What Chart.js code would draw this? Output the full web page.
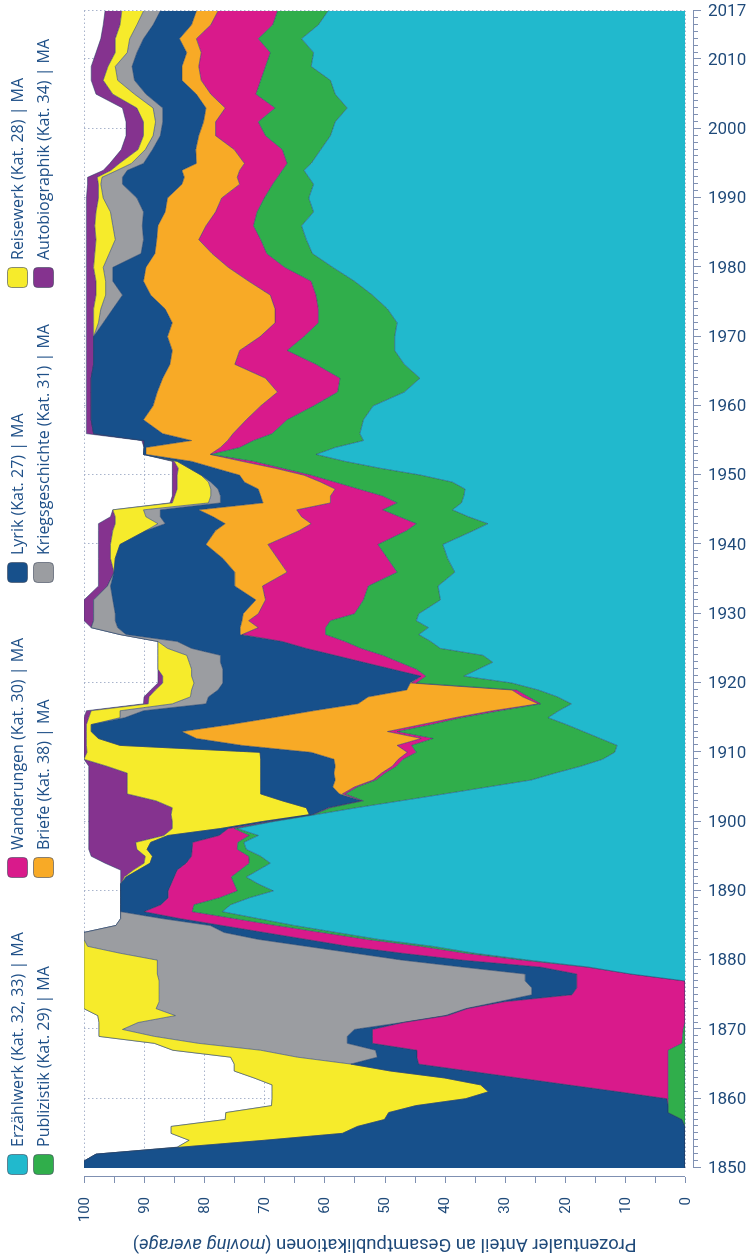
<!DOCTYPE html>
<html>
<head>
<meta charset="utf-8">
<script src="https://cdn.jsdelivr.net/npm/chart.js@4.4.1/dist/chart.umd.min.js"></script>
<style>
  html, body { margin: 0; padding: 0; background: #fff; }
  #wrap { position: relative; width: 750px; height: 1256px; overflow: hidden; }
  /* the chart is drawn lying down and turned a quarter turn to the left */
  #chart { position: absolute; left: 0; top: 0; width: 1256px; height: 750px;
           transform-origin: 0 0; transform: translate(0, 1256px) rotate(-90deg); }
</style>
</head>
<body>
<div id="wrap"><canvas id="chart" width="1256" height="750"></canvas></div>
<script>
const years = [
  1850,1851,1852,1853,1854,1855,1856,1857,1858,1859,
  1860,1861,1862,1863,1864,1865,1866,1867,1868,1869,
  1870,1871,1872,1873,1874,1875,1876,1877,1878,1879,
  1880,1881,1882,1883,1884,1885,1886,1887,1888,1889,
  1890,1891,1892,1893,1894,1895,1896,1897,1898,1899,
  1900,1901,1902,1903,1904,1905,1906,1907,1908,1909,
  1910,1911,1912,1913,1914,1915,1916,1917,1918,1919,
  1920,1921,1922,1923,1924,1925,1926,1927,1928,1929,
  1930,1932,1934,1936,1938,1940,
  1942,1943,1944,1945,1946,1947,1948,1949,1950,1951,1952,1953,1954,1955,1956,
  1958,1960,1962,1964,1966,1968,1970,1972,1974,1976,1978,1980,
  1982,1984,1986,1988,1990,1992,1993,1994,1995,
  1997,1999,2001,2003,2005,2007,2009,2011,2013,2015,2017
];

// Erzählwerk (cyan)
const erzaehlwerk = [
  0,0,0,0,0,0,0,0,0,0,
  0,0,0,0,0,0,0,0,0,0,
  0,0,0,0,0,0,0,0,9,16,
  26,35,42,51,58,65,71,77,75.6,72.5,
  68.5,71,73,71,69,70.6,73,73.4,71,74.5,
  68.5,61.5,54.7,47.3,40,32.8,25.6,21.6,17.3,13.7,
  11.7,11.3,14.1,16.9,19.7,22.8,21,18.9,21.2,24.4,
  28.8,36.8,34.4,32,33.6,40.7,42.3,44.3,42.7,44.7,
  44.3,40.7,41.1,38.3,39.5,40.3,
  35.2,32.8,36,38.7,37.2,36.8,36.6,38.7,43.9,50.7,56.6,61.4,58.2,53.5,54.1,
  53.5,51.9,46.7,44.1,46.7,48.3,48.3,47.9,49.5,52,55,58.6,
  62,63,63.8,61.8,62.6,61.8,62.6,63.4,62.2,
  60.6,59,58.2,56.2,58.2,59,62.2,61.8,63.8,61,59.4
];

// Publizistik (green)
const publizistik = [
  0,0,0,0,0,0,0,0.5,2.8,2.8,
  2.8,2.8,2.8,2.8,2.8,2.8,2.8,2.8,0.5,0.4,
  0.3,0,0,0,0,0,0,0,0,0.3,
  1,1.5,2,2,2.5,3,4,5,6.1,5,
  6,4,2.5,3,3.5,2,1.5,1,1.5,0.5,
  0.3,0.3,4.3,6.2,16.5,21.7,25.8,28.3,30.7,33.2,
  33,34.2,27.8,31,22.6,14.4,9.8,5.1,4.8,3.6,
  15.9,6.3,10.3,15.5,16.7,13.2,14.3,15.5,17.1,14.3,
  10.7,12.8,11.6,9.6,10,10.8,
  11.1,11.9,11.5,11.6,10.7,13.5,17.7,19.5,18.3,16.3,15.2,17.5,15.9,18.3,14.6,
  12.7,9.9,11.1,13.3,14.7,17.9,15.1,13.1,11.5,9.4,7.2,8,
  7.6,7.6,8,9.4,7.4,6.8,5.2,3.6,4,
  6.4,10.8,12.8,12,13.2,11.6,7.6,7.2,7.2,7.6,8.4
];

// Wanderungen (magenta)
const wanderungen = [
  0,0,0,0,0,0,0,0,0,0,
  0.2,8.2,16.6,24.9,33.2,41.5,41.8,41.8,51.5,51.6,
  51.7,46.8,39.5,36.2,30,18.8,18,18,9,7.7,
  10,10.5,12,10,9.5,9,9,8,5.5,8.5,
  11.5,10.5,9.5,10.5,10.5,9.5,7.5,7.5,5,1,
  0.5,0.2,0.3,0.3,0.5,0.5,0.5,0.6,0.7,0.8,
  1.5,2.4,2,1.6,1.6,1.1,1.2,0.4,1,0.8,
  0.8,0.8,4,6,7.9,9.1,10.4,13.9,11.2,13.6,
  16,16.3,17.6,18.3,18.3,18.3,
  17.9,17.5,16.3,14.3,11.1,8.7,3.9,2.4,1.2,1.2,1.9,0.1,3.2,4.3,6.5,
  6.8,8.8,10,12.4,13.5,7.9,7.3,7.2,7.2,7.6,10.4,9.4,
  9.1,10.3,7.9,6.9,7.1,5.5,6.7,7.1,7.1,
  8,8.3,7.1,8.3,7.5,9.9,11.1,11.5,10.3,10.3,9.9
];

// Briefe (orange)
const briefe = [
  0,0,0,0,0,0,0,0,0,0,
  0,0,0,0,0,0,0,0,0,0,
  0,0,0,0,0,0,0,0,0,0,
  0,0,0,0,0,0,0,0,0,0,
  0,0,0,0,0,0,0,0,0,0,
  0,0,0,0,0.5,3.6,6.3,7.9,9.5,10.7,
  16,25.8,37.4,34.2,31.8,30.3,29.8,30,25.7,17.5,
  0.2,0,0,0,0,0,0,0.3,3,1.1,
  2.5,1.6,4.6,8.7,9.1,10.3,
  13.9,14.3,14.7,16.3,11.2,11.6,12.8,12.7,10.7,9.9,8.4,10.7,12.4,6,11.7,
  17.1,17.9,20,17.1,10.8,11.2,15.4,17.1,18.3,19.9,17.5,13.7,
  9.5,7,8,8.4,9,9.6,8.8,9.6,8,
  6.4,2.8,2,3.2,2.4,3.2,2.8,2.4,2.8,3.2,3.6
];

// Lyrik (dark blue)
const lyrik = [
  100,100,98,84,70,57,54.5,49.5,46.5,42,
  33.5,21.7,14.6,12.3,13,11.3,6.6,6.9,4.2,4.2,
  3,0.3,0.4,0.3,1,6.7,7.5,8.6,8.6,13,
  10,8,7,8,6.7,2,3,3.9,6.7,7.9,
  7.9,8.4,8,6.5,6,6.5,7.5,7,8.5,1.3,
  1.1,0.5,3.7,13.2,13.1,12,12.4,12.2,12.4,12.2,
  8.5,20.3,16.3,15.1,23.1,24.6,28.3,25.3,26.6,31.4,
  31.2,33,28.2,23.8,19.1,19.1,17.5,19,20.4,21.1,
  21.3,23.8,20.7,20.1,17.9,14.3,
  11.6,10,8.8,6.4,7.1,6.7,6.7,5.6,6.4,4.4,2.4,0.4,0.3,7.9,11.5,
  8.7,10.3,11,11.9,12.7,13.1,12.3,11.5,8.7,4.7,5.1,5.5,
  2.3,2.2,2.6,3.6,5.1,9.9,10.3,9.1,8.8,
  7.2,6.4,6.8,7.2,8.4,7.9,8.3,8.3,6,6.4,6
];

// Kriegsgeschichte (grey)
const kriegsgeschichte = [
  0,0,0,0,0,0,0,0,0,0,
  0,0,0,0,0,0,13.3,19.1,24.8,32.1,
  38.6,43.9,44.9,51.5,56.5,62,62,60.9,61.2,50.8,
  40.8,39,36.4,29,23.3,15.7,6.9,0,0,0,
  0,0,0,0,0,0,0,0,0,0,
  0,0,0,0,0,0,0,0,0,0,
  0,0,0,0,0,0.8,3.9,5.6,3,4.4,
  4.8,5.2,5.2,5.2,5.6,4,3.2,1,4.4,3.6,
  3.6,3.2,0.5,0,0,0,
  0,1.2,2.4,2.8,2,1.6,1.2,0.4,0,0,0,0,0,0,0,
  0,0,0,0,0,0,0,0.8,2,2.8,1.2,1.6,
  5.3,4.7,4.9,5.5,5.6,3.6,3.4,1.7,2,
  1.2,1.2,1.2,1.6,1.9,2.8,2.8,1.6,2.3,2.7,2.8
];

// Reisewerk (yellow)
const reisewerk = [
  0,0,0,0.5,12.5,28.5,31,26.5,27.1,24,
  32.2,36,34.7,31.7,26,19.4,11.1,14.6,7.3,9.2,
  3.9,6.5,12.9,12,12.5,12.5,12.5,12.5,12.2,12.2,
  12.2,6,0.6,0,0,0,0,0,0,0,
  0,0,0.3,0.8,1,1.2,1.7,2.5,0.7,8,
  14.9,23,22.3,21,22.2,22.2,22.2,22.2,25.6,29.4,
  28.8,5.6,2,0.8,0.8,5.2,4.8,4,6.9,6,
  5.2,4.8,5.6,5.2,4.8,1.6,0,0,0,0,
  0,0,0,0,0.8,1.6,
  5.5,7.1,5.1,5.1,6,6,5.6,5.2,4,1.8,0.5,0,0,0,0,
  0,0,0,0,0,0,0,0.8,1.2,1.6,1.6,1.6,
  2.4,3.2,3,2.4,0.8,0.4,0.8,1,2,
  1.2,1.6,2,2.7,3.6,2.4,1.2,2,2.4,2.8,3.6
];

// Autobiographik (purple)
const autobiographik = [
  0,0,0,0,0,0,0,0,0,0,
  0,0,0,0,0,0,0,0,0,0,
  0,0,0,0,0,0,0,0,0,0,
  0,0,0,0,0,0,0,0,0,0,
  0,0,0.6,2.1,6.5,9,8,7.8,12.5,13.9,
  13.9,13.7,13.9,11.2,6.4,6.4,6.4,6.4,3,0,
  0.5,0.4,0.4,0.4,0.4,0.8,0.8,0.8,0.8,0.8,
  0.8,0.8,0,0,0,0,0,0,0,1.6,
  1.6,1.6,1.5,2.6,2,2,
  2.4,2.8,0.8,0,0.4,0.4,0.8,0.8,0.8,1,0.3,0,0,0.4,1.2,
  0.8,0.8,0.8,0.8,1.2,1.2,1.2,1.2,1.2,1.6,1.6,1.2,
  1.4,1.6,1.4,1.6,2,1.8,1.6,1.3,1.6,
  2.8,2.9,2.9,2.4,2.8,2,2.8,3.2,2.4,2.8,2.8
];

const yearTicks = [1850,1860,1870,1880,1890,1900,1910,1920,1930,1940,1950,1960,1970,1980,1990,2000,2010,2017];
const percentTicks = [0,10,20,30,40,50,60,70,80,90,100];

// stacking order from 0 % upwards
const series = [
  { label: 'Erzählwerk (Kat. 32, 33) | MA', data: erzaehlwerk,      color: '#21b9cd' },
  { label: 'Publizistik (Kat. 29) | MA',    data: publizistik,      color: '#30ae4b' },
  { label: 'Wanderungen (Kat. 30) | MA',    data: wanderungen,      color: '#d91a8b' },
  { label: 'Briefe (Kat. 38) | MA',         data: briefe,           color: '#f8aa26' },
  { label: 'Lyrik (Kat. 27) | MA',          data: lyrik,            color: '#17508b' },
  { label: 'Kriegsgeschichte (Kat. 31) | MA', data: kriegsgeschichte, color: '#9b9da1' },
  { label: 'Reisewerk (Kat. 28) | MA',      data: reisewerk,        color: '#f6eb2b' },
  { label: 'Autobiographik (Kat. 34) | MA', data: autobiographik,   color: '#85338f' }
];

// legend: two rows of four, as in the original
const legendRows = [
  [0, 2, 4, 6],
  [1, 3, 5, 7]
];

const NAVY = '#1f4a7a';
const AXIS = '#7f90b2';

const datasets = series.map((s, i) => ({
  label: s.label,
  data: years.map((y, k) => ({ x: y, y: s.data[k] })),
  backgroundColor: s.color,
  borderColor: 'rgba(35,60,100,0.7)',
  borderWidth: 0.75,
  fill: i === 0 ? 'origin' : '-1',
  pointRadius: 0,
  tension: 0
}));

const decor = {
  id: 'decor',
  beforeDatasetsDraw(chart) {
    const { ctx, chartArea: a, scales: { x, y } } = chart;
    ctx.save();
    ctx.strokeStyle = '#a9b4cc';
    ctx.lineWidth = 1;
    ctx.setLineDash([1.5, 2.5]);
    ctx.beginPath();
    percentTicks.forEach(v => {
      const py = Math.round(y.getPixelForValue(v)) + 0.5;
      ctx.moveTo(a.left, py); ctx.lineTo(a.right, py);
    });
    yearTicks.forEach(v => {
      const px = Math.round(x.getPixelForValue(v)) + 0.5;
      ctx.moveTo(px, a.top); ctx.lineTo(px, a.bottom);
    });
    ctx.stroke();
    ctx.restore();
  },
  afterDraw(chart) {
    const { ctx, scales: { x, y } } = chart;
    ctx.save();

    // year axis (right hand side once turned)
    const ax = 693;
    ctx.strokeStyle = AXIS;
    ctx.lineWidth = 1;
    ctx.beginPath();
    ctx.moveTo(x.getPixelForValue(1850), ax + 0.5);
    ctx.lineTo(x.getPixelForValue(2017), ax + 0.5);
    for (let yr = 1850; yr <= 2017; yr++) {
      const px = Math.round(x.getPixelForValue(yr)) + 0.5;
      const major = yearTicks.includes(yr);
      ctx.moveTo(px, ax); ctx.lineTo(px, ax + (major ? 8 : 5));
    }
    ctx.stroke();

    ctx.fillStyle = NAVY;
    ctx.font = '17px Roboto';
    ctx.textAlign = 'left';
    ctx.textBaseline = 'middle';
    yearTicks.forEach(yr => {
      ctx.save();
      ctx.translate(x.getPixelForValue(yr), ax + 15);
      ctx.rotate(Math.PI / 2);
      ctx.fillText(String(yr), 0, 1);
      ctx.restore();
    });

    // percent axis (bottom once turned)
    const py0 = 79;
    ctx.beginPath();
    ctx.moveTo(py0 + 0.5, y.getPixelForValue(100));
    ctx.lineTo(py0 + 0.5, y.getPixelForValue(0));
    for (let v = 0; v <= 100; v += 5) {
      const p = Math.round(y.getPixelForValue(v)) + 0.5;
      ctx.moveTo(py0, p); ctx.lineTo(py0 - 6, p);
    }
    ctx.stroke();

    ctx.font = '15px Roboto';
    ctx.textAlign = 'right';
    ctx.textBaseline = 'middle';
    percentTicks.forEach(v => {
      ctx.fillText(String(v), py0 - 20, y.getPixelForValue(v) + 1);
    });

    // axis title, mixed upright / italic
    const parts = [
      ['Prozentualer Anteil an Gesamtpublikationen (', '18.5px Roboto'],
      ['moving average', 'italic 18.5px Roboto'],
      [')', '18.5px Roboto']
    ];
    let total = 0;
    parts.forEach(p => { ctx.font = p[1]; total += ctx.measureText(p[0]).width; });
    ctx.save();
    ctx.translate(12, (y.getPixelForValue(0) + y.getPixelForValue(100)) / 2);
    ctx.rotate(-Math.PI / 2);
    ctx.textAlign = 'left';
    let cx = -total / 2;
    parts.forEach(p => {
      ctx.font = p[1];
      ctx.fillText(p[0], cx, 0);
      cx += ctx.measureText(p[0]).width;
    });
    ctx.restore();

    // legend
    const itemX = [81, 378, 673, 968];
    const rowY = [17, 43];
    ctx.font = '16px "Open Sans"';
    ctx.textAlign = 'left';
    ctx.textBaseline = 'middle';
    legendRows.forEach((row, r) => {
      row.forEach((si, c) => {
        const s = series[si];
        const bx = itemX[c], by = rowY[r] - 10;
        ctx.fillStyle = s.color;
        ctx.strokeStyle = 'rgba(60,70,90,0.6)';
        ctx.lineWidth = 1;
        ctx.beginPath();
        ctx.roundRect(bx + 0.5, by + 0.5, 20, 20, 4);
        ctx.fill();
        ctx.stroke();
        ctx.fillStyle = '#1f5088';
        ctx.fillText(s.label, bx + 28, rowY[r] + 1);
      });
    });

    ctx.restore();
  }
};

new Chart(document.getElementById('chart'), {
  type: 'line',
  data: { datasets: datasets },
  options: {
    responsive: false,
    animation: false,
    devicePixelRatio: 1,
    layout: { padding: { left: 88, right: 11, top: 84, bottom: 65 } },
    plugins: {
      legend: { display: false },
      tooltip: { enabled: false },
      filler: { propagate: false }
    },
    scales: {
      x: { type: 'linear', min: 1850, max: 2017, display: false },
      y: { stacked: true, min: 0, max: 100, display: false }
    }
  },
  plugins: [decor]
});
</script>
</body>
</html>
